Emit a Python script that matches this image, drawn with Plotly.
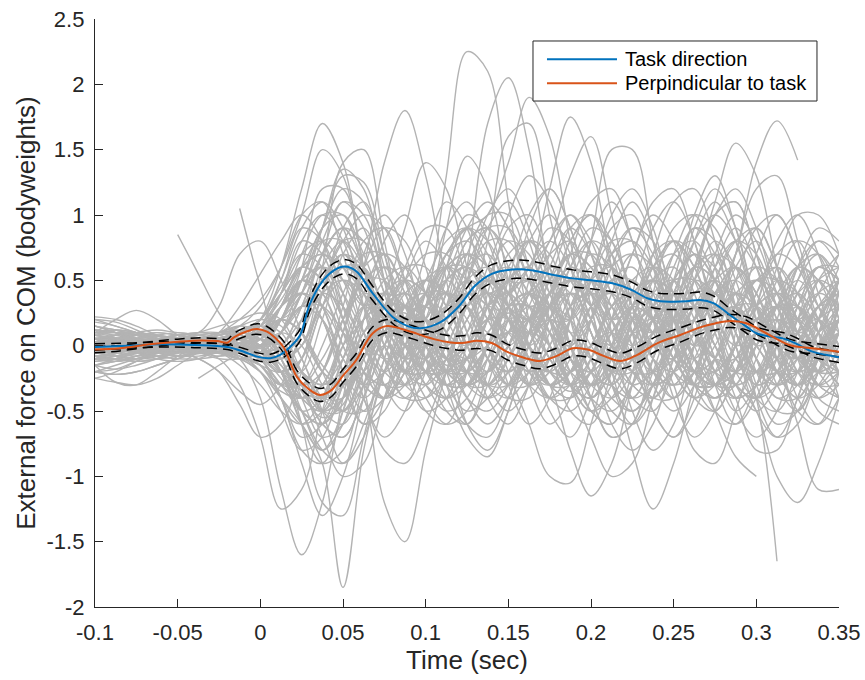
import plotly.graph_objects as go

# ---------------- data ----------------
time_grid = [-0.1, -0.0875, -0.075, -0.0625, -0.05, -0.0375, -0.025, -0.0125, 0.0,
             0.0125, 0.025, 0.0375, 0.05, 0.0625, 0.075, 0.0875, 0.1,
             0.1125, 0.125, 0.1375, 0.15, 0.1625, 0.175, 0.1875, 0.2, 0.2125, 0.225,
             0.2375, 0.25, 0.2625, 0.275, 0.2875, 0.3, 0.3125, 0.325, 0.3375, 0.35]

N = None
gray_trials = [
    # large positive peaks
    [0.05, 0.08, 0.1, 0.06, 0.0, -0.05, -0.02, 0.05, 0.1, 0.2, 0.1, -0.15, -0.3, -0.2, 0.0, -0.1, 0.3, 1.3, 2.25, 2.1, 1.1, 0.2, -0.3, -0.2, 0.2, 0.5, 0.3, -0.1, -0.4, -0.2, 0.3, 0.6, 0.4, 0.0, -0.3, -0.1, 0.3],
    [-0.1, -0.12, -0.08, -0.02, 0.03, 0.05, 0.02, -0.05, -0.15, -0.3, -0.1, 0.4, 0.7, 0.4, 0.0, -0.3, -0.4, -0.2, 0.6, 1.7, 2.05, 1.5, 0.5, -0.1, -0.3, -0.2, 0.2, 0.5, 0.6, 0.3, 0.0, -0.2, 0.0, 0.3, 0.5, 0.3, 0.0],
    [0.15, 0.1, 0.02, -0.05, -0.08, -0.05, 0.0, 0.1, 0.2, 0.4, 0.6, 0.5, 0.2, -0.2, -0.4, -0.2, 0.3, 0.7, 0.9, 1.0, 1.4, 1.9, 1.6, 0.8, 0.2, 0.0, 0.3, 0.7, 0.8, 0.5, 0.1, -0.3, -0.4, -0.1, 0.3, 0.5, 0.4],
    [-0.05, -0.02, 0.02, 0.05, 0.04, 0.0, -0.05, -0.1, -0.05, 0.2, 0.5, 0.3, -0.2, -0.6, -0.5, -0.1, 0.3, 0.4, 0.3, 0.8, 1.6, 1.7, 1.0, 0.3, -0.2, -0.3, 0.0, 0.4, 0.5, 0.2, -0.2, -0.5, -0.3, 0.2, 0.6, 0.7, 0.4],
    [0.0, 0.02, 0.05, 0.08, 0.1, 0.08, 0.05, 0.0, -0.05, -0.2, -0.4, -0.3, 0.1, 0.6, 1.4, 1.8, 1.3, 0.5, -0.1, -0.3, -0.1, 0.3, 0.6, 0.5, 0.1, -0.3, -0.4, -0.1, 0.4, 0.7, 0.5, 0.0, -0.4, -0.5, -0.2, 0.2, 0.5],
    [0.1, 0.12, 0.1, 0.05, 0.0, -0.02, 0.0, 0.05, 0.2, 0.6, 1.2, 1.7, 1.4, 0.6, -0.1, -0.4, -0.3, 0.0, 0.3, 0.4, 0.2, -0.1, -0.2, 0.0, 0.3, 0.4, 0.2, -0.1, -0.2, 0.0, 0.2, 0.3, 0.1, -0.2, -0.3, -0.1, 0.2],
    [-0.15, -0.18, -0.15, -0.1, -0.05, 0.0, 0.05, 0.05, 0.0, -0.1, 0.0, 0.6, 1.4, 1.5, 0.8, 0.1, -0.3, -0.4, -0.2, 0.2, 0.5, 0.6, 0.4, 0.0, -0.3, -0.2, 0.1, 0.5, 0.8, 0.7, 0.3, -0.1, -0.2, 0.0, 0.4, 0.6, 0.5],
    [0.0, -0.05, -0.08, -0.05, 0.0, 0.05, 0.1, 0.2, 0.35, 0.6, 1.0, 1.5, 1.3, 0.6, 0.0, -0.2, 0.0, 0.3, 0.5, 0.4, 0.0, -0.3, -0.4, -0.2, 0.2, 0.6, 0.7, 0.4, 0.0, -0.2, -0.1, 0.2, 0.5, 0.5, 0.2, -0.1, -0.2],
    [0.2, 0.18, 0.12, 0.05, 0.0, -0.05, -0.05, 0.0, 0.0, 0.1, 0.4, 0.9, 1.35, 1.2, 0.5, -0.2, -0.5, -0.4, 0.0, 0.5, 0.8, 0.7, 0.3, -0.1, -0.3, -0.2, 0.1, 0.3, 0.2, -0.1, -0.3, -0.2, 0.1, 0.4, 0.3, 0.0, -0.2],
    [-0.2, -0.22, -0.2, -0.15, -0.1, -0.05, 0.0, 0.0, -0.05, -0.2, -0.4, -0.3, 0.0, 0.2, 0.4, 0.9, 1.4, 1.2, 0.6, 0.0, -0.3, -0.2, 0.2, 0.6, 0.8, 0.5, 0.1, -0.2, -0.3, 0.0, 0.4, 0.6, 0.4, 0.1, -0.1, 0.0, 0.2],
    [0.05, 0.0, -0.05, -0.1, -0.12, -0.1, -0.05, -0.1, -0.2, -0.4, -0.6, -0.5, -0.1, 0.3, 0.4, 0.2, 0.3, 0.9, 1.45, 1.2, 0.5, -0.1, -0.3, -0.1, 0.3, 0.4, 0.1, -0.3, -0.5, -0.3, 0.1, 0.4, 0.5, 0.3, 0.0, -0.2, -0.1],
    [-0.08, -0.05, 0.0, 0.05, 0.08, 0.05, 0.0, -0.02, 0.0, 0.1, 0.0, -0.3, -0.5, -0.3, 0.1, 0.4, 0.5, 0.3, 0.0, -0.2, 0.0, 0.5, 1.2, 1.75, 1.4, 0.6, 0.0, -0.3, -0.2, 0.2, 0.5, 0.6, 0.3, -0.1, -0.3, -0.2, 0.1],
    [0.12, 0.1, 0.05, 0.0, -0.03, -0.05, -0.02, 0.05, 0.1, 0.0, -0.3, -0.4, -0.1, 0.4, 0.7, 0.6, 0.2, -0.2, -0.3, 0.0, 0.4, 0.6, 0.8, 1.3, 1.6, 1.0, 0.3, -0.2, -0.4, -0.2, 0.2, 0.4, 0.2, -0.1, -0.2, 0.1, 0.4],
    [-0.1, -0.05, 0.0, 0.03, 0.0, -0.05, -0.1, -0.1, -0.05, 0.2, 0.5, 0.6, 0.3, -0.1, -0.4, -0.3, 0.1, 0.5, 0.6, 0.3, -0.1, -0.3, -0.2, 0.2, 0.5, 0.6, 0.3, -0.1, -0.3, -0.2, 0.2, 0.7, 1.4, 1.72, 1.42, N, N],
    [0.0, 0.02, 0.0, -0.05, -0.08, -0.06, 0.0, 0.08, 0.15, 0.1, -0.2, -0.5, -0.6, -0.3, 0.1, 0.3, 0.2, -0.1, -0.3, -0.2, 0.1, 0.4, 0.5, 0.3, 0.0, -0.2, 0.0, 0.3, 0.4, 0.6, 1.1, 1.55, 1.3, 0.6, 0.0, -0.3, -0.2],
    [0.05, 0.05, 0.03, 0.0, 0.0, 0.02, 0.05, 0.08, 0.0, -0.2, -0.4, -0.2, 0.2, 0.5, 0.6, 0.3, -0.1, -0.3, -0.1, 0.3, 0.5, 0.3, -0.1, -0.3, -0.1, 0.3, 0.4, 0.2, 0.4, 1.0, 1.3, 0.9, 0.3, -0.2, -0.4, -0.3, 0.0],
    [-0.05, -0.08, -0.1, -0.08, -0.05, 0.0, 0.05, 0.0, -0.1, -0.3, -0.5, -0.6, -0.4, 0.0, 0.2, 0.3, 0.1, -0.1, 0.0, 0.3, 0.4, 0.2, 0.0, -0.2, 0.0, 0.3, 0.5, 0.3, 0.0, -0.1, 0.2, 0.7, 1.2, 1.3, 0.8, 0.3, 0.0],
    [0.1, 0.08, 0.05, 0.05, 0.08, 0.1, 0.1, 0.05, -0.05, -0.2, -0.1, 0.3, 0.6, 0.5, 0.1, -0.2, -0.2, 0.1, 0.4, 0.3, 0.0, -0.3, -0.2, 0.2, 0.8, 1.5, 1.5, 0.8, 0.1, -0.3, -0.3, 0.0, 0.3, 0.4, 0.2, 0.0, 0.1],
    [-0.02, 0.0, 0.02, 0.02, 0.0, -0.03, -0.05, -0.05, 0.0, 0.3, 0.6, 0.7, 0.5, 0.1, -0.2, -0.3, -0.1, 0.2, 0.5, 0.6, 0.4, 0.0, -0.3, -0.4, -0.2, 0.2, 0.5, 0.6, 0.4, 0.0, -0.3, -0.3, 0.1, 0.6, 1.0, 1.0, 0.7],
    # large negative troughs
    [-0.1, -0.08, -0.05, 0.0, 0.05, 0.05, 0.0, -0.05, -0.2, -0.4, -0.6, -0.9, -1.85, -0.8, -0.2, 0.1, 0.2, 0.0, -0.3, -0.4, -0.2, 0.1, 0.3, 0.2, -0.1, -0.4, -0.5, -0.3, 0.0, 0.3, 0.4, 0.2, -0.1, -0.3, -0.2, 0.0, 0.2],
    [0.0, 0.05, 0.08, 0.1, 0.08, 0.05, 0.0, -0.1, -0.4, -1.1, -1.6, -1.2, -0.4, 0.2, 0.4, 0.3, 0.0, -0.2, -0.3, -0.1, 0.2, 0.4, 0.3, 0.0, -0.3, -0.4, -0.2, 0.2, 0.5, 0.5, 0.2, -0.2, -0.4, -0.3, 0.0, 0.3, 0.4],
    [0.15, 0.12, 0.08, 0.05, 0.05, 0.05, 0.05, 0.1, 0.2, 0.4, 0.6, 0.5, 0.2, -0.3, -1.2, -1.5, -0.8, -0.2, 0.3, 0.5, 0.4, 0.0, -0.3, -0.4, -0.2, 0.1, 0.3, 0.2, -0.1, -0.3, -0.3, 0.0, 0.3, 0.4, 0.2, -0.1, -0.3],
    [-0.2, -0.22, -0.2, -0.15, -0.1, -0.05, -0.1, -0.3, -0.7, -1.25, -1.1, -0.5, 0.0, 0.3, 0.3, 0.0, -0.3, -0.4, -0.2, 0.2, 0.5, 0.5, 0.2, -0.1, -0.2, 0.0, 0.3, 0.4, 0.2, -0.1, -0.2, 0.0, 0.3, 0.5, 0.4, 0.1, -0.1],
    [0.05, 0.03, 0.0, -0.02, 0.0, 0.05, 0.1, 0.15, 0.1, -0.1, -0.6, -1.2, -1.3, -0.7, -0.1, 0.3, 0.4, 0.2, -0.1, -0.3, -0.3, 0.0, 0.3, 0.5, 0.4, 0.0, -0.3, -0.4, -0.2, 0.1, 0.3, 0.2, 0.0, -0.2, -0.1, 0.1, 0.3],
    [-0.05, -0.05, -0.02, 0.02, 0.05, 0.03, 0.0, 0.0, -0.1, -0.4, -0.9, -1.3, -1.0, -0.4, 0.1, 0.3, 0.2, -0.1, -0.4, -0.5, -0.3, 0.1, 0.4, 0.5, 0.3, 0.0, -0.2, -0.2, 0.0, 0.3, 0.4, 0.2, -0.1, -0.3, -0.2, 0.1, 0.2],
    [0.0, -0.02, -0.05, -0.08, -0.1, -0.1, -0.08, -0.05, 0.0, 0.2, 0.4, 0.3, 0.0, -0.4, -0.8, -0.9, -0.6, -0.2, 0.1, 0.3, 0.2, 0.0, -0.2, -0.3, -0.1, 0.2, 0.4, 0.3, 0.0, -0.3, -0.4, -0.2, 0.1, 0.3, 0.2, -0.1, -0.3],
    [0.08, 0.05, 0.0, -0.03, -0.05, -0.03, 0.0, 0.05, 0.1, 0.2, 0.1, -0.2, -0.3, 0.0, 0.4, 0.5, 0.2, -0.3, -0.7, -0.85, -0.5, 0.0, 0.3, 0.4, 0.2, -0.1, -0.3, -0.2, 0.1, 0.4, 0.5, 0.3, 0.0, -0.2, -0.3, -0.1, 0.2],
    [-0.1, -0.1, -0.08, -0.05, -0.02, 0.0, 0.0, -0.02, -0.05, 0.0, 0.2, 0.4, 0.3, 0.0, -0.3, -0.3, 0.0, 0.3, 0.4, 0.2, -0.2, -0.6, -1.0, -1.05, -0.6, 0.0, 0.4, 0.5, 0.2, -0.2, -0.4, -0.3, 0.0, 0.3, 0.4, 0.2, 0.0],
    [0.05, 0.08, 0.1, 0.08, 0.05, 0.0, -0.05, -0.05, 0.0, 0.2, 0.5, 0.4, 0.0, -0.3, -0.4, -0.2, 0.1, 0.3, 0.3, 0.0, -0.2, -0.1, -0.3, -0.8, -1.15, -0.9, -0.3, 0.2, 0.4, 0.3, 0.0, -0.3, -0.4, -0.2, 0.2, 0.4, 0.3],
    [-0.15, -0.12, -0.1, -0.1, -0.08, -0.05, 0.0, 0.05, 0.1, 0.0, -0.3, -0.5, -0.4, 0.0, 0.3, 0.4, 0.2, -0.1, -0.2, 0.0, 0.3, 0.4, 0.1, -0.3, -0.7, -1.0, -0.9, -0.4, 0.1, 0.4, 0.4, 0.1, -0.2, -0.3, -0.1, 0.2, 0.3],
    [0.0, 0.0, 0.02, 0.05, 0.05, 0.02, 0.0, 0.02, 0.05, 0.3, 0.6, 0.5, 0.1, -0.3, -0.4, -0.1, 0.3, 0.5, 0.3, -0.1, -0.3, -0.1, 0.2, 0.4, 0.2, -0.2, -0.8, -1.25, -0.9, -0.3, 0.2, 0.4, 0.3, 0.0, -0.3, -0.4, -0.2],
    [-0.05, -0.03, 0.0, 0.0, -0.02, -0.05, -0.08, -0.05, 0.05, 0.3, 0.4, 0.2, -0.2, -0.4, -0.2, 0.2, 0.5, 0.4, 0.0, -0.3, -0.2, 0.2, 0.5, 0.4, 0.1, -0.2, -0.2, 0.0, -0.3, -0.8, -0.9, -0.5, 0.0, 0.3, 0.4, 0.2, -0.1],
    [0.1, 0.1, 0.08, 0.04, 0.0, -0.02, 0.0, 0.05, 0.1, 0.0, -0.2, -0.3, -0.1, 0.2, 0.3, 0.1, -0.2, -0.4, -0.3, 0.0, 0.3, 0.4, 0.2, -0.1, -0.3, -0.2, 0.1, 0.3, 0.2, -0.1, -0.5, -0.85, -1.0, N, N, N, N],
    [-0.08, -0.1, -0.12, -0.1, -0.05, 0.0, 0.02, 0.0, -0.05, 0.1, 0.3, 0.2, -0.1, -0.3, -0.2, 0.1, 0.3, 0.4, 0.2, -0.1, -0.2, 0.0, 0.3, 0.5, 0.4, 0.1, -0.1, 0.0, 0.3, 0.5, 0.4, 0.1, -0.4, -1.65, N, N, N],
    [0.02, 0.0, -0.02, -0.02, 0.0, 0.03, 0.05, 0.05, 0.0, -0.2, -0.3, -0.1, 0.2, 0.4, 0.3, 0.0, -0.2, -0.2, 0.0, 0.3, 0.4, 0.2, -0.1, -0.3, -0.3, 0.0, 0.3, 0.5, 0.4, 0.1, -0.2, -0.3, -0.5, -1.0, -1.2, -0.9, -0.4],
    [0.0, 0.02, 0.05, 0.07, 0.06, 0.03, 0.0, -0.03, -0.05, -0.1, 0.0, 0.3, 0.5, 0.4, 0.1, -0.2, -0.3, -0.1, 0.3, 0.5, 0.4, 0.0, -0.3, -0.3, 0.0, 0.3, 0.4, 0.2, -0.1, -0.2, 0.0, 0.3, 0.3, -0.1, -0.6, -1.1, -1.1],
    [0.15, 0.1, 0.05, 0.0, -0.05, -0.1, -0.2, -0.45, -0.7, -0.6, -0.2, 0.3, 0.6, 0.6, 0.3, 0.0, -0.2, -0.1, 0.2, 0.4, 0.3, 0.0, -0.2, -0.2, 0.0, 0.3, 0.4, 0.3, 0.0, -0.2, -0.2, 0.0, 0.2, 0.3, 0.1, -0.1, -0.2],
    # trials starting late
    [N, N, N, N, 0.85, 0.55, 0.25, 0.05, -0.05, 0.0, 0.3, 0.7, 0.9, 0.6, 0.1, -0.2, -0.1, 0.2, 0.4, 0.3, 0.0, -0.2, -0.1, 0.2, 0.4, 0.3, 0.0, -0.2, -0.1, 0.2, 0.4, 0.4, 0.1, -0.2, -0.3, 0.0, 0.3],
    [N, N, N, N, N, N, N, 1.05, 0.45, -0.1, -0.3, -0.2, 0.2, 0.6, 0.7, 0.4, 0.0, -0.2, -0.1, 0.2, 0.5, 0.5, 0.2, -0.1, -0.2, 0.0, 0.3, 0.5, 0.4, 0.1, -0.1, -0.1, 0.1, 0.3, 0.3, 0.1, -0.1],
    [N, N, N, N, N, -0.25, -0.15, -0.05, 0.1, 0.3, 0.4, 0.2, -0.2, -0.5, -0.4, 0.0, 0.4, 0.6, 0.4, 0.0, -0.3, -0.3, 0.0, 0.3, 0.4, 0.2, -0.1, -0.3, -0.2, 0.1, 0.4, 0.5, 0.3, 0.0, -0.2, -0.1, 0.1],
    # task-direction like
    [0.0, 0.02, 0.03, 0.02, 0.0, -0.02, -0.05, -0.1, -0.1, 0.1, 0.5, 0.9, 1.0, 0.7, 0.3, 0.1, 0.1, 0.4, 0.8, 0.9, 0.7, 0.4, 0.3, 0.5, 0.8, 0.7, 0.3, 0.0, 0.1, 0.5, 0.8, 0.6, 0.2, -0.1, 0.0, 0.3, 0.4],
    [-0.05, -0.03, 0.0, 0.03, 0.05, 0.03, 0.0, -0.03, -0.05, 0.0, 0.3, 0.7, 1.1, 1.0, 0.5, 0.0, -0.1, 0.2, 0.6, 0.9, 0.9, 0.6, 0.3, 0.2, 0.4, 0.7, 0.8, 0.6, 0.2, 0.0, 0.2, 0.6, 0.8, 0.5, 0.1, -0.1, 0.1],
    [0.08, 0.06, 0.02, -0.02, -0.05, -0.06, -0.05, -0.05, -0.1, -0.2, 0.1, 0.6, 0.8, 0.6, 0.2, -0.1, 0.0, 0.4, 0.7, 0.6, 0.3, 0.2, 0.5, 0.9, 1.0, 0.6, 0.2, 0.1, 0.3, 0.6, 0.5, 0.1, -0.2, -0.1, 0.3, 0.6, 0.5],
    [-0.1, -0.08, -0.04, 0.0, 0.02, 0.0, -0.02, -0.05, -0.15, -0.3, -0.1, 0.4, 0.9, 1.1, 0.7, 0.2, 0.0, 0.1, 0.5, 1.0, 1.2, 0.9, 0.4, 0.1, 0.2, 0.6, 0.9, 0.8, 0.4, 0.1, 0.2, 0.5, 0.6, 0.3, 0.0, -0.1, 0.1],
    [0.03, 0.05, 0.05, 0.03, 0.0, -0.02, 0.0, 0.05, 0.15, 0.4, 0.8, 1.0, 0.8, 0.3, -0.1, -0.2, 0.1, 0.6, 0.9, 0.8, 0.5, 0.3, 0.4, 0.6, 0.5, 0.2, 0.0, 0.2, 0.6, 0.9, 0.7, 0.3, 0.0, 0.1, 0.4, 0.5, 0.2],
    [0.0, -0.03, -0.05, -0.04, 0.0, 0.04, 0.06, 0.04, 0.0, 0.1, 0.3, 0.5, 0.6, 0.5, 0.3, 0.2, 0.4, 0.7, 0.8, 0.6, 0.3, 0.2, 0.4, 0.7, 0.7, 0.4, 0.1, 0.0, 0.2, 0.5, 0.7, 0.6, 0.3, 0.1, 0.1, 0.3, 0.4],
    [0.2, 0.15, 0.1, 0.05, 0.0, -0.03, -0.03, 0.0, 0.05, 0.2, 0.6, 1.2, 1.2, 0.6, 0.0, -0.3, -0.2, 0.2, 0.6, 0.7, 0.5, 0.5, 0.7, 0.8, 0.5, 0.1, -0.1, 0.1, 0.5, 0.7, 0.5, 0.2, 0.2, 0.5, 0.8, 0.7, 0.3],
    [-0.2, -0.15, -0.1, -0.05, -0.02, 0.0, -0.03, -0.08, -0.15, -0.2, 0.1, 0.5, 0.7, 0.6, 0.3, 0.1, 0.2, 0.5, 0.6, 0.5, 0.4, 0.6, 0.9, 0.8, 0.4, 0.0, -0.1, 0.2, 0.5, 0.5, 0.2, 0.0, 0.1, 0.3, 0.3, 0.0, -0.2],
    [0.1, 0.12, 0.1, 0.05, 0.0, -0.05, -0.05, 0.0, 0.1, 0.3, 0.5, 0.6, 0.4, 0.1, -0.1, 0.0, 0.4, 0.9, 1.1, 0.8, 0.4, 0.2, 0.3, 0.5, 0.4, 0.2, 0.3, 0.6, 0.8, 0.6, 0.3, 0.3, 0.5, 0.6, 0.3, 0.0, -0.1],
    [0.0, 0.0, 0.02, 0.05, 0.08, 0.1, 0.08, 0.02, -0.05, -0.1, 0.2, 0.7, 0.9, 0.6, 0.1, -0.1, 0.0, 0.3, 0.5, 0.4, 0.5, 0.8, 1.0, 0.7, 0.3, 0.2, 0.4, 0.5, 0.3, 0.1, 0.2, 0.4, 0.3, 0.0, -0.1, 0.1, 0.2],
    # perpendicular-like
    [0.0, 0.02, 0.04, 0.05, 0.05, 0.05, 0.08, 0.12, 0.15, 0.0, -0.4, -0.7, -0.6, -0.2, 0.2, 0.3, 0.1, -0.1, 0.0, 0.2, 0.1, -0.2, -0.4, -0.3, 0.0, 0.1, -0.1, -0.3, -0.2, 0.1, 0.3, 0.2, 0.0, -0.2, -0.2, 0.0, 0.1],
    [-0.1, -0.08, -0.05, 0.0, 0.05, 0.08, 0.1, 0.12, 0.1, -0.1, -0.5, -0.8, -0.6, -0.1, 0.3, 0.4, 0.2, 0.0, -0.2, -0.3, -0.1, 0.1, 0.0, -0.3, -0.5, -0.4, -0.1, 0.1, 0.2, 0.1, -0.1, -0.3, -0.2, 0.1, 0.2, 0.0, -0.2],
    [0.05, 0.03, 0.0, -0.02, 0.0, 0.05, 0.1, 0.15, 0.2, 0.15, -0.1, -0.5, -0.9, -0.7, -0.2, 0.2, 0.3, 0.1, -0.2, -0.4, -0.3, 0.0, 0.2, 0.1, -0.2, -0.5, -0.6, -0.3, 0.1, 0.3, 0.2, -0.1, -0.3, -0.2, 0.1, 0.2, 0.0],
    [-0.05, -0.05, -0.03, 0.0, 0.03, 0.04, 0.03, 0.05, 0.1, 0.0, -0.3, -0.5, -0.4, -0.1, 0.2, 0.2, 0.0, -0.2, -0.2, 0.0, 0.2, 0.2, 0.0, -0.3, -0.4, -0.2, 0.1, 0.3, 0.2, -0.1, -0.3, -0.2, 0.1, 0.3, 0.2, -0.1, -0.3],
    [0.12, 0.1, 0.06, 0.02, 0.0, 0.0, 0.02, 0.06, 0.1, 0.0, -0.2, -0.5, -0.5, -0.2, 0.1, 0.2, 0.0, -0.3, -0.5, -0.4, -0.1, 0.2, 0.3, 0.1, -0.2, -0.3, -0.1, 0.2, 0.3, 0.1, -0.2, -0.4, -0.3, 0.0, 0.2, 0.2, 0.0],
    [-0.15, -0.12, -0.08, -0.05, -0.02, 0.0, 0.05, 0.1, 0.12, 0.05, -0.3, -0.6, -0.7, -0.4, 0.0, 0.2, 0.2, 0.0, -0.1, 0.0, 0.1, -0.1, -0.4, -0.5, -0.3, 0.0, 0.2, 0.1, -0.2, -0.4, -0.3, 0.0, 0.2, 0.1, -0.2, -0.4, -0.3],
    [0.0, 0.0, 0.0, 0.02, 0.05, 0.1, 0.15, 0.2, 0.25, 0.2, -0.1, -0.4, -0.5, -0.2, 0.2, 0.5, 0.4, 0.1, -0.2, -0.2, 0.0, 0.2, 0.1, -0.2, -0.3, -0.1, 0.2, 0.3, 0.1, -0.2, -0.3, -0.1, 0.2, 0.3, 0.1, -0.2, -0.2],
    [-0.25, -0.2, -0.12, -0.05, 0.0, 0.02, 0.0, 0.0, 0.05, 0.0, -0.2, -0.4, -0.3, 0.0, 0.2, 0.1, -0.1, -0.2, 0.0, 0.2, 0.2, -0.1, -0.3, -0.2, 0.0, 0.0, -0.2, -0.4, -0.4, -0.1, 0.2, 0.3, 0.1, -0.2, -0.3, -0.1, 0.1],
    [0.22, 0.2, 0.15, 0.08, 0.02, -0.02, 0.0, 0.05, 0.1, 0.05, -0.2, -0.3, -0.2, 0.0, 0.3, 0.4, 0.2, -0.1, -0.3, -0.2, 0.1, 0.3, 0.2, -0.1, -0.4, -0.5, -0.3, 0.0, 0.2, 0.1, -0.1, -0.2, 0.0, 0.2, 0.1, -0.2, -0.4],
    [-0.25, -0.28, -0.3, -0.25, -0.15, -0.05, 0.05, 0.1, 0.05, -0.2, -0.6, -0.8, -0.5, 0.0, 0.3, 0.3, 0.0, -0.3, -0.3, 0.0, 0.3, 0.3, 0.0, -0.3, -0.4, -0.2, 0.1, 0.3, 0.2, -0.1, -0.3, -0.2, 0.1, 0.2, 0.0, -0.3, -0.4],
    [0.1, 0.2, 0.27, 0.2, 0.08, 0.0, 0.0, 0.05, 0.08, -0.05, -0.35, -0.55, -0.45, -0.1, 0.2, 0.25, 0.05, -0.15, -0.1, 0.1, 0.25, 0.1, -0.2, -0.35, -0.2, 0.1, 0.25, 0.1, -0.2, -0.3, -0.1, 0.2, 0.3, 0.1, -0.2, -0.3, -0.1],
    [-0.15, -0.28, -0.3, -0.2, -0.08, 0.0, 0.05, 0.05, 0.0, -0.2, -0.5, -0.6, -0.4, -0.1, 0.1, 0.1, -0.1, -0.3, -0.3, -0.1, 0.1, 0.1, -0.1, -0.3, -0.2, 0.1, 0.3, 0.2, -0.1, -0.3, -0.3, -0.1, 0.1, 0.1, -0.1, -0.2, -0.1],
    # wide oscillations
    [0.0, 0.0, -0.02, -0.05, -0.05, -0.02, 0.02, 0.05, 0.0, -0.2, -0.2, 0.2, 0.7, 0.9, 0.5, -0.1, -0.5, -0.6, -0.2, 0.4, 0.9, 1.0, 0.6, 0.0, -0.5, -0.6, -0.2, 0.4, 0.9, 1.0, 0.6, 0.0, -0.5, -0.7, -0.4, 0.2, 0.6],
    [0.05, 0.02, 0.0, 0.0, 0.02, 0.05, 0.08, 0.1, 0.05, -0.2, -0.5, -0.4, 0.1, 0.7, 1.0, 0.7, 0.1, -0.4, -0.6, -0.3, 0.3, 0.9, 1.2, 0.9, 0.3, -0.3, -0.6, -0.4, 0.2, 0.8, 1.1, 0.8, 0.2, -0.3, -0.5, -0.2, 0.3],
    [-0.08, -0.06, -0.02, 0.02, 0.04, 0.03, 0.0, 0.0, 0.1, 0.4, 0.8, 0.7, 0.2, -0.4, -0.7, -0.5, 0.0, 0.6, 1.0, 0.9, 0.3, -0.3, -0.6, -0.4, 0.2, 0.8, 1.1, 0.8, 0.2, -0.3, -0.5, -0.2, 0.3, 0.7, 0.8, 0.4, -0.1],
    [0.02, 0.05, 0.08, 0.08, 0.05, 0.0, -0.05, -0.05, -0.1, -0.4, -0.8, -0.9, -0.5, 0.2, 0.8, 1.0, 0.6, 0.0, -0.6, -0.8, -0.5, 0.1, 0.7, 1.0, 0.7, 0.1, -0.5, -0.8, -0.6, 0.0, 0.6, 0.9, 0.6, 0.0, -0.5, -0.6, -0.2],
    [-0.12, -0.1, -0.05, 0.0, 0.02, 0.02, 0.0, -0.02, 0.0, 0.2, 0.4, 0.2, -0.3, -0.6, -0.4, 0.1, 0.7, 1.1, 0.9, 0.3, -0.3, -0.6, -0.4, 0.2, 0.8, 1.1, 0.8, 0.2, -0.4, -0.7, -0.5, 0.1, 0.7, 1.0, 0.7, 0.1, -0.4],
    [0.15, 0.12, 0.08, 0.05, 0.05, 0.08, 0.1, 0.12, 0.2, 0.5, 0.9, 1.1, 0.9, 0.3, -0.3, -0.5, -0.2, 0.3, 0.8, 0.9, 0.6, 0.0, -0.5, -0.7, -0.4, 0.2, 0.7, 1.0, 0.8, 0.3, -0.3, -0.6, -0.4, 0.1, 0.6, 0.8, 0.6],
    [-0.05, -0.08, -0.1, -0.08, -0.04, 0.0, 0.02, 0.0, -0.1, -0.3, -0.4, -0.2, 0.3, 0.8, 0.9, 0.5, -0.1, -0.5, -0.6, -0.2, 0.4, 0.8, 0.7, 0.2, -0.4, -0.7, -0.6, -0.1, 0.5, 0.9, 0.8, 0.3, -0.3, -0.6, -0.5, 0.0, 0.5],
    [0.05, 0.06, 0.05, 0.02, -0.02, -0.05, -0.05, 0.0, 0.1, 0.3, 0.5, 0.3, -0.1, -0.3, 0.0, 0.5, 0.8, 0.6, 0.1, -0.4, -0.6, -0.3, 0.3, 0.8, 1.0, 0.7, 0.1, -0.5, -0.7, -0.4, 0.2, 0.7, 0.9, 0.6, 0.0, -0.4, -0.5],
    [0.0, -0.03, -0.05, -0.05, -0.03, 0.0, 0.03, 0.05, 0.0, -0.1, 0.0, 0.4, 0.8, 0.8, 0.4, 0.0, 0.0, 0.3, 0.7, 1.0, 1.0, 0.6, 0.0, -0.5, -0.6, -0.2, 0.4, 0.9, 1.1, 0.8, 0.2, -0.3, -0.4, 0.0, 0.5, 0.8, 0.7],
    [-0.02, 0.0, 0.02, 0.03, 0.02, 0.0, -0.05, -0.15, -0.3, -0.5, -0.6, -0.4, 0.1, 0.6, 0.9, 0.8, 0.4, 0.0, -0.2, 0.0, 0.5, 1.0, 1.2, 0.9, 0.3, -0.3, -0.5, -0.3, 0.3, 0.9, 1.2, 0.9, 0.3, -0.2, -0.4, -0.1, 0.4],
    # early movers
    [0.0, 0.05, 0.1, 0.12, 0.1, 0.1, 0.3, 0.7, 0.8, 0.5, 0.1, -0.2, -0.3, -0.1, 0.3, 0.6, 0.6, 0.3, 0.0, -0.2, 0.0, 0.4, 0.6, 0.5, 0.1, -0.3, -0.4, -0.1, 0.3, 0.6, 0.5, 0.1, -0.2, -0.2, 0.1, 0.4, 0.5],
    [-0.1, -0.1, -0.12, -0.1, -0.05, 0.0, 0.1, 0.3, 0.55, 0.8, 1.0, 0.8, 0.3, -0.2, -0.4, -0.2, 0.2, 0.6, 0.7, 0.4, 0.0, -0.2, 0.0, 0.4, 0.7, 0.6, 0.2, -0.2, -0.3, 0.0, 0.4, 0.6, 0.4, 0.0, -0.2, -0.1, 0.2],
    [0.05, 0.05, 0.03, 0.0, -0.05, -0.1, -0.2, -0.35, -0.45, -0.3, 0.1, 0.5, 0.7, 0.5, 0.1, -0.2, -0.2, 0.0, 0.3, 0.4, 0.2, -0.1, -0.3, -0.2, 0.2, 0.5, 0.5, 0.2, -0.2, -0.4, -0.2, 0.2, 0.5, 0.4, 0.0, -0.3, -0.3],
    # further trials (dense core)
    [0.0, 0.03, 0.05, 0.04, 0.02, 0.0, 0.0, 0.05, 0.15, 0.5, 0.9, 0.8, 0.4, 0.0, -0.2, 0.0, 0.3, 0.6, 0.5, 0.2, 0.0, 0.2, 0.6, 0.9, 0.7, 0.2, -0.2, -0.3, 0.0, 0.5, 1.0, 1.1, 0.7, 0.2, 0.0, 0.2, 0.5],
    [-0.12, -0.1, -0.06, -0.02, 0.0, 0.0, -0.02, -0.08, -0.2, -0.5, -0.8, -0.7, -0.3, 0.1, 0.3, 0.2, 0.0, 0.1, 0.5, 0.9, 1.1, 0.8, 0.2, -0.3, -0.5, -0.3, 0.2, 0.7, 1.1, 1.2, 0.8, 0.2, -0.2, -0.1, 0.3, 0.6, 0.5],
    [0.05, 0.0, -0.05, -0.08, -0.06, 0.0, 0.08, 0.15, 0.3, 0.6, 1.0, 1.1, 0.7, 0.1, -0.3, -0.4, -0.1, 0.4, 0.7, 0.6, 0.2, -0.2, -0.3, 0.0, 0.5, 0.9, 1.0, 0.6, 0.0, -0.4, -0.5, -0.2, 0.3, 0.8, 1.0, 0.7, 0.2],
    [0.0, 0.0, 0.0, 0.02, 0.03, 0.03, 0.0, -0.05, -0.15, -0.4, -0.7, -0.6, -0.2, 0.3, 0.6, 0.5, 0.2, -0.1, -0.3, -0.2, 0.2, 0.6, 0.8, 0.6, 0.2, -0.2, -0.4, -0.3, 0.1, 0.6, 1.0, 1.1, 0.7, 0.1, -0.4, -0.6, -0.4],
    [0.08, 0.1, 0.1, 0.08, 0.04, 0.0, 0.0, 0.05, 0.1, 0.3, 0.7, 1.0, 1.0, 0.6, 0.2, 0.1, 0.3, 0.6, 0.7, 0.5, 0.2, 0.1, 0.4, 0.8, 1.0, 0.8, 0.4, 0.1, 0.2, 0.6, 1.0, 1.2, 0.9, 0.4, 0.1, 0.2, 0.5],
    [-0.05, -0.03, 0.0, 0.02, 0.02, 0.0, 0.0, 0.02, 0.0, -0.2, -0.6, -0.9, -0.8, -0.3, 0.2, 0.4, 0.2, -0.2, -0.6, -0.7, -0.4, 0.1, 0.4, 0.3, -0.1, -0.6, -0.8, -0.6, -0.1, 0.3, 0.4, 0.1, -0.4, -0.7, -0.6, -0.2, 0.2],
    [0.18, 0.15, 0.1, 0.05, 0.02, 0.0, -0.03, -0.05, -0.05, 0.1, 0.4, 0.8, 1.1, 0.9, 0.4, 0.0, -0.1, 0.1, 0.4, 0.5, 0.3, 0.0, -0.2, 0.0, 0.5, 1.0, 1.2, 0.9, 0.3, -0.2, -0.3, 0.0, 0.4, 0.6, 0.4, 0.0, -0.2],
    [-0.2, -0.18, -0.12, -0.06, -0.02, 0.0, 0.02, 0.05, 0.05, -0.05, -0.3, -0.7, -1.0, -0.9, -0.4, 0.1, 0.4, 0.4, 0.1, -0.3, -0.5, -0.3, 0.1, 0.4, 0.3, -0.1, -0.4, -0.5, -0.2, 0.2, 0.4, 0.2, -0.2, -0.5, -0.5, -0.2, 0.1],
    [0.0, -0.02, -0.02, 0.0, 0.03, 0.06, 0.06, 0.02, -0.02, 0.1, 0.4, 0.6, 0.5, 0.3, 0.3, 0.5, 0.7, 0.7, 0.4, 0.1, 0.1, 0.4, 0.8, 1.0, 0.8, 0.4, 0.2, 0.3, 0.7, 1.0, 0.9, 0.5, 0.1, 0.0, 0.2, 0.5, 0.6],
    [0.1, 0.06, 0.0, -0.05, -0.08, -0.08, -0.05, 0.0, 0.1, 0.2, 0.1, -0.2, -0.5, -0.5, -0.2, 0.2, 0.5, 0.6, 0.3, -0.1, -0.4, -0.4, -0.1, 0.3, 0.5, 0.3, -0.1, -0.5, -0.7, -0.5, -0.1, 0.3, 0.5, 0.3, -0.1, -0.5, -0.6],
    [-0.05, -0.02, 0.0, 0.0, -0.02, -0.04, -0.02, 0.05, 0.15, 0.35, 0.6, 0.7, 0.6, 0.4, 0.2, 0.2, 0.4, 0.6, 0.6, 0.3, -0.1, -0.3, -0.1, 0.3, 0.6, 0.6, 0.3, 0.0, -0.1, 0.2, 0.6, 0.8, 0.6, 0.2, -0.1, -0.1, 0.2],
    [0.02, 0.04, 0.06, 0.05, 0.02, -0.02, -0.06, -0.1, -0.2, -0.35, -0.4, -0.2, 0.2, 0.5, 0.5, 0.2, -0.1, -0.3, -0.2, 0.2, 0.6, 0.8, 0.6, 0.2, -0.1, -0.1, 0.2, 0.6, 0.8, 0.6, 0.1, -0.3, -0.5, -0.3, 0.1, 0.5, 0.7],
    [-0.1, -0.12, -0.1, -0.06, -0.02, 0.02, 0.06, 0.1, 0.15, 0.3, 0.6, 0.9, 1.2, 1.1, 0.6, 0.1, -0.2, -0.3, -0.1, 0.3, 0.7, 0.8, 0.5, 0.0, -0.3, -0.2, 0.2, 0.6, 0.7, 0.4, -0.1, -0.4, -0.3, 0.1, 0.6, 0.9, 0.8],
    [0.05, 0.05, 0.02, -0.02, -0.05, -0.05, -0.02, 0.0, -0.05, -0.2, -0.5, -0.6, -0.3, 0.1, 0.2, 0.0, -0.3, -0.5, -0.4, 0.0, 0.4, 0.5, 0.2, -0.2, -0.5, -0.6, -0.3, 0.1, 0.4, 0.3, -0.1, -0.5, -0.7, -0.5, 0.0, 0.3, 0.3],
    [0.0, 0.04, 0.08, 0.1, 0.08, 0.04, 0.0, -0.02, 0.0, 0.2, 0.5, 0.8, 0.8, 0.5, 0.2, 0.0, 0.1, 0.5, 0.9, 1.1, 0.9, 0.5, 0.1, 0.0, 0.3, 0.7, 0.9, 0.7, 0.3, 0.0, 0.1, 0.5, 0.9, 1.0, 0.7, 0.3, 0.1],
    [-0.03, -0.05, -0.06, -0.04, 0.0, 0.04, 0.06, 0.04, -0.02, -0.15, -0.4, -0.5, -0.3, 0.0, 0.1, -0.1, -0.4, -0.6, -0.5, -0.1, 0.3, 0.4, 0.1, -0.3, -0.4, -0.1, 0.3, 0.5, 0.3, -0.1, -0.5, -0.6, -0.3, 0.1, 0.3, 0.1, -0.2],
    [0.12, 0.1, 0.05, 0.0, -0.02, 0.0, 0.04, 0.1, 0.2, 0.4, 0.7, 0.8, 0.6, 0.3, 0.1, 0.2, 0.5, 0.8, 0.9, 0.6, 0.2, 0.0, 0.2, 0.6, 0.9, 0.8, 0.4, 0.0, -0.1, 0.2, 0.7, 1.0, 0.8, 0.4, 0.2, 0.4, 0.7],
    [-0.06, -0.04, 0.0, 0.04, 0.06, 0.05, 0.02, -0.02, -0.08, -0.25, -0.5, -0.8, -0.9, -0.6, -0.1, 0.3, 0.5, 0.4, 0.0, -0.3, -0.4, -0.2, 0.2, 0.5, 0.4, 0.0, -0.3, -0.4, -0.1, 0.3, 0.5, 0.3, -0.1, -0.4, -0.4, -0.1, 0.3],
    [0.0, 0.0, -0.02, -0.04, -0.04, -0.02, 0.02, 0.08, 0.2, 0.45, 0.7, 0.6, 0.2, -0.2, -0.3, -0.1, 0.3, 0.7, 0.9, 0.7, 0.3, 0.1, 0.3, 0.7, 1.1, 1.2, 0.8, 0.3, 0.0, 0.1, 0.5, 0.8, 0.7, 0.3, -0.1, -0.2, 0.1],
    [-0.08, -0.06, -0.03, 0.0, 0.02, 0.02, 0.0, -0.04, -0.1, -0.1, 0.1, 0.4, 0.5, 0.3, -0.1, -0.4, -0.4, -0.1, 0.3, 0.5, 0.3, -0.1, -0.4, -0.4, -0.1, 0.4, 0.7, 0.6, 0.2, -0.2, -0.3, 0.0, 0.4, 0.7, 0.6, 0.2, -0.1],
    [0.03, 0.02, 0.0, -0.02, -0.02, 0.0, 0.03, 0.05, 0.08, 0.2, 0.4, 0.7, 0.9, 0.8, 0.5, 0.3, 0.3, 0.5, 0.6, 0.4, 0.2, 0.2, 0.5, 0.7, 0.6, 0.3, 0.1, 0.2, 0.5, 0.7, 0.6, 0.3, 0.2, 0.4, 0.6, 0.5, 0.3],
    [0.06, 0.06, 0.04, 0.02, 0.0, -0.02, -0.02, 0.0, 0.05, 0.0, -0.3, -0.6, -0.7, -0.4, 0.0, 0.3, 0.3, 0.0, -0.4, -0.6, -0.4, 0.0, 0.2, 0.0, -0.4, -0.7, -0.6, -0.2, 0.2, 0.3, 0.0, -0.4, -0.8, -0.8, -0.4, 0.0, 0.2],
    [-0.15, -0.1, -0.05, 0.0, 0.02, 0.02, 0.0, 0.0, 0.05, 0.2, 0.5, 0.9, 1.3, 1.25, 0.7, 0.1, -0.2, -0.2, 0.1, 0.5, 0.6, 0.4, 0.1, 0.0, 0.2, 0.5, 0.6, 0.3, -0.1, -0.3, -0.1, 0.3, 0.6, 0.5, 0.1, -0.2, -0.2],
    [0.05, 0.08, 0.08, 0.05, 0.0, -0.03, -0.05, -0.08, -0.15, -0.3, -0.3, 0.0, 0.4, 0.7, 0.7, 0.4, 0.1, 0.0, 0.2, 0.6, 1.0, 1.3, 1.1, 0.6, 0.1, -0.2, -0.1, 0.3, 0.7, 0.8, 0.5, 0.0, -0.3, -0.2, 0.2, 0.6, 0.6],
    [-0.02, -0.04, -0.04, -0.02, 0.0, 0.03, 0.05, 0.05, 0.0, -0.15, -0.35, -0.4, -0.2, 0.1, 0.3, 0.3, 0.1, -0.1, -0.1, 0.1, 0.3, 0.3, 0.0, -0.3, -0.4, -0.2, 0.1, 0.2, 0.0, -0.3, -0.4, -0.2, 0.1, 0.2, 0.0, -0.3, -0.4],
    [0.0, 0.02, 0.02, 0.0, -0.03, -0.05, -0.05, 0.0, 0.1, 0.3, 0.5, 0.4, 0.1, 0.0, 0.2, 0.6, 0.9, 0.9, 0.5, 0.0, -0.2, 0.0, 0.4, 0.7, 0.6, 0.2, -0.1, 0.0, 0.4, 0.8, 1.0, 0.8, 0.3, 0.0, 0.0, 0.3, 0.5],
    [0.08, 0.05, 0.02, 0.0, 0.0, 0.02, 0.02, 0.0, -0.02, 0.1, 0.3, 0.3, 0.1, -0.2, -0.3, -0.1, 0.2, 0.4, 0.3, 0.0, -0.2, 0.0, 0.4, 0.6, 0.5, 0.4, 0.7, 1.1, 1.2, 0.8, 0.2, -0.2, -0.2, 0.1, 0.5, 0.7, 0.5],
    [-0.1, -0.06, 0.0, 0.05, 0.08, 0.08, 0.06, 0.06, 0.05, -0.1, -0.4, -0.5, -0.2, 0.2, 0.5, 0.6, 0.4, 0.0, -0.3, -0.3, 0.0, 0.4, 0.6, 0.5, 0.1, -0.3, -0.5, -0.3, 0.2, 0.6, 0.7, 0.4, -0.1, -0.4, -0.3, 0.1, 0.5],
    [0.02, 0.0, -0.03, -0.05, -0.05, -0.02, 0.02, 0.06, 0.1, 0.2, 0.3, 0.5, 0.8, 1.0, 0.9, 0.5, 0.2, 0.2, 0.5, 0.8, 0.8, 0.5, 0.2, 0.2, 0.5, 0.8, 0.8, 0.5, 0.2, 0.2, 0.5, 0.8, 0.9, 0.6, 0.2, 0.0, 0.2],
    [-0.04, -0.02, 0.0, 0.0, -0.02, -0.04, -0.04, -0.02, 0.0, 0.0, -0.2, -0.4, -0.4, -0.1, 0.3, 0.5, 0.4, 0.1, 0.0, 0.2, 0.5, 0.6, 0.3, -0.1, -0.3, -0.1, 0.3, 0.6, 0.5, 0.1, -0.3, -0.4, -0.1, 0.3, 0.6, 0.5, 0.1],
]

task_time = [-0.1, -0.08, -0.06, -0.04, -0.02, -0.01, -0.002, 0.006, 0.012, 0.018, 0.024,
             0.030, 0.038, 0.045, 0.051, 0.058, 0.068, 0.080, 0.089, 0.097, 0.109, 0.120,
             0.130, 0.140, 0.155, 0.165, 0.178, 0.189, 0.200, 0.213, 0.224, 0.234, 0.242,
             0.250, 0.258, 0.266, 0.274, 0.284, 0.294, 0.300, 0.308, 0.316, 0.325, 0.334,
             0.342, 0.350]
task_mean = [-0.01, 0.0, 0.01, 0.005, -0.01, -0.046, -0.084, -0.096, -0.07, -0.01, 0.08,
             0.32, 0.50, 0.58, 0.605, 0.57, 0.40, 0.22, 0.15, 0.133, 0.18, 0.30,
             0.46, 0.55, 0.585, 0.575, 0.54, 0.515, 0.50, 0.477, 0.43, 0.363, 0.34,
             0.337, 0.34, 0.35, 0.326, 0.235, 0.146, 0.095, 0.07, 0.056, 0.01, -0.046,
             -0.07, -0.089]
task_ci = [0.025, 0.02, 0.02, 0.02, 0.02, 0.025, 0.03, 0.03, 0.035, 0.04, 0.045,
           0.05, 0.055, 0.055, 0.055, 0.055, 0.055, 0.05, 0.05, 0.05, 0.055, 0.06,
           0.065, 0.07, 0.07, 0.07, 0.065, 0.065, 0.065, 0.065, 0.06, 0.06, 0.06,
           0.06, 0.06, 0.06, 0.055, 0.05, 0.05, 0.05, 0.045, 0.045, 0.045, 0.04,
           0.04, 0.04]

perp_time = [-0.1, -0.085, -0.067, -0.05, -0.036, -0.026, -0.02, -0.016, -0.008, -0.002,
             0.004, 0.009, 0.014, 0.022, 0.029, 0.036, 0.043, 0.050, 0.058, 0.068, 0.0765,
             0.085, 0.095, 0.105, 0.115, 0.122, 0.131, 0.140, 0.149, 0.159, 0.169, 0.179,
             0.189, 0.198, 0.208, 0.218, 0.228, 0.240, 0.254, 0.266, 0.275, 0.284, 0.294,
             0.306, 0.320, 0.334, 0.350]
perp_mean = [-0.03, -0.02, 0.01, 0.03, 0.04, 0.035, 0.023, 0.064, 0.11, 0.128,
             0.107, 0.06, -0.01, -0.237, -0.33, -0.377, -0.34, -0.23, -0.11, 0.095, 0.15,
             0.13, 0.09, 0.05, 0.025, 0.02, 0.038, 0.02, -0.046, -0.09, -0.117, -0.08,
             -0.02, -0.03, -0.08, -0.117, -0.07, 0.018, 0.082, 0.14, 0.17, 0.189, 0.171,
             0.095, 0.005, -0.02, -0.046]
perp_ci = [0.025, 0.02, 0.02, 0.02, 0.02, 0.02, 0.025, 0.03, 0.035, 0.04,
           0.04, 0.04, 0.045, 0.05, 0.05, 0.05, 0.05, 0.05, 0.05, 0.05, 0.05,
           0.05, 0.05, 0.05, 0.05, 0.055, 0.06, 0.06, 0.06, 0.06, 0.06, 0.06,
           0.06, 0.06, 0.06, 0.06, 0.06, 0.055, 0.055, 0.05, 0.05, 0.05, 0.05,
           0.045, 0.045, 0.04, 0.04]

series_names = ["Task direction", "Perpindicular to task"]

x_ticks = [-0.1, -0.05, 0, 0.05, 0.1, 0.15, 0.2, 0.25, 0.3, 0.35]
x_tick_text = ["-0.1", "-0.05", "0", "0.05", "0.1", "0.15", "0.2", "0.25", "0.3", "0.35"]
y_ticks = [-2, -1.5, -1, -0.5, 0, 0.5, 1, 1.5, 2, 2.5]
y_tick_text = ["-2", "-1.5", "-1", "-0.5", "0", "0.5", "1", "1.5", "2", "2.5"]

# ---------------- figure ----------------
GRAY = "rgb(179,179,179)"
BLUE = "#0072BD"
ORANGE = "#D95319"
AXIS = "#262626"
FONT = "Liberation Sans, Arial, Helvetica, sans-serif"

fig = go.Figure()

for tr in gray_trials:
    fig.add_trace(go.Scatter(x=time_grid, y=tr, mode="lines",
                             line=dict(color=GRAY, width=1.4, shape="spline", smoothing=1.0),
                             showlegend=False, hoverinfo="skip"))

for t_arr, m_arr, ci_arr in [(task_time, task_mean, task_ci), (perp_time, perp_mean, perp_ci)]:
    upper = [m + c for m, c in zip(m_arr, ci_arr)]
    lower = [m - c for m, c in zip(m_arr, ci_arr)]
    for band in (upper, lower):
        fig.add_trace(go.Scatter(x=t_arr, y=band, mode="lines",
                                 line=dict(color="black", width=1.5, dash="10px,6px", shape="spline"),
                                 showlegend=False, hoverinfo="skip"))

fig.add_trace(go.Scatter(x=task_time, y=task_mean, mode="lines", name=series_names[0],
                         line=dict(color=BLUE, width=2, shape="spline"), showlegend=False))
fig.add_trace(go.Scatter(x=perp_time, y=perp_mean, mode="lines", name=series_names[1],
                         line=dict(color=ORANGE, width=2, shape="spline"), showlegend=False))

# legend box drawn in paper coordinates (MATLAB-style compact legend)
L_X0, L_X1, L_Y0, L_Y1 = 0.5887, 0.9704, 0.8605, 0.9626
ROW_Y = [0.9315, 0.8906]
SAMPLE_X0, SAMPLE_X1, TEXT_X = 0.6075, 0.7016, 0.7097
shapes = [dict(type="rect", xref="paper", yref="paper", x0=L_X0, x1=L_X1, y0=L_Y0, y1=L_Y1,
               fillcolor="white", line=dict(color=AXIS, width=1), layer="above")]
annotations = []
for name, col, yy in zip(series_names, [BLUE, ORANGE], ROW_Y):
    shapes.append(dict(type="line", xref="paper", yref="paper", x0=SAMPLE_X0, x1=SAMPLE_X1,
                       y0=yy, y1=yy, line=dict(color=col, width=2), layer="above"))
    annotations.append(dict(text=name, xref="paper", yref="paper", x=TEXT_X, y=yy,
                            xanchor="left", yanchor="middle", showarrow=False,
                            font=dict(size=20, family=FONT, color="black")))

fig.update_layout(
    width=865, height=680,
    margin=dict(l=95, r=26, t=19, b=73),
    paper_bgcolor="white", plot_bgcolor="white",
    font=dict(family=FONT, color=AXIS),
    showlegend=False, hovermode=False,
    shapes=shapes, annotations=annotations,
    xaxis=dict(range=[-0.1, 0.35], tickmode="array", tickvals=x_ticks, ticktext=x_tick_text,
               showgrid=False, zeroline=False, showline=True, linecolor=AXIS, linewidth=1.3,
               ticks="inside", ticklen=8, tickwidth=1.3, tickcolor=AXIS, mirror=False,
               automargin=False, ticklabelstandoff=5, ticklabeloverflow="allow",
               tickfont=dict(size=22, family=FONT, color=AXIS),
               title=dict(text="Time (sec)", font=dict(size=26, family=FONT, color=AXIS), standoff=4)),
    yaxis=dict(range=[-2, 2.5], tickmode="array", tickvals=y_ticks, ticktext=y_tick_text,
               showgrid=False, zeroline=False, showline=True, linecolor=AXIS, linewidth=1.3,
               ticks="inside", ticklen=8, tickwidth=1.3, tickcolor=AXIS, mirror=False,
               automargin=False, ticklabelstandoff=5, ticklabeloverflow="allow",
               tickfont=dict(size=22, family=FONT, color=AXIS),
               title=dict(text="External force on COM (bodyweights)",
                          font=dict(size=26, family=FONT, color=AXIS), standoff=3)),
)

# remove the browser's default 8px body margin so the 865x680 figure fills the window exactly
fig.write_html("out.html", config={"displayModeBar": False},
               post_script="document.body.style.margin='0px';")
